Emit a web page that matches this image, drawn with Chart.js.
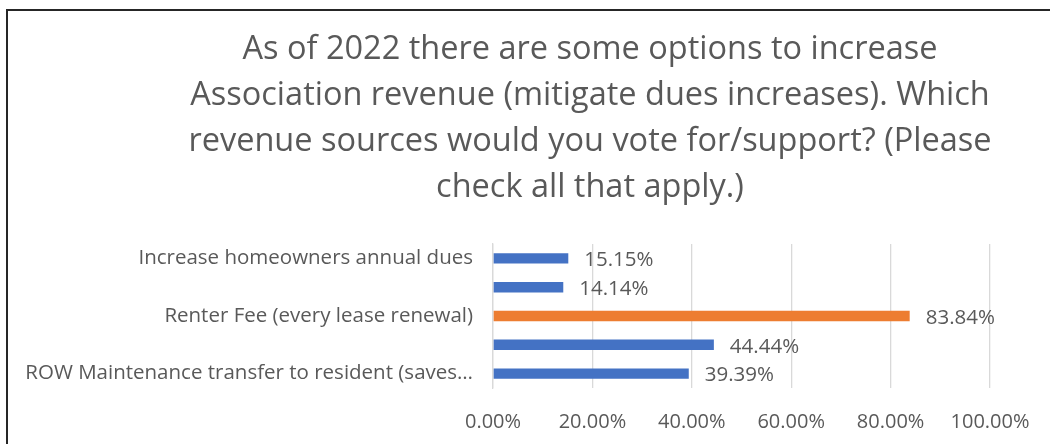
<!DOCTYPE html>
<html>
<head>
<meta charset="utf-8">
<script src="https://cdn.jsdelivr.net/npm/chart.js@4.4.0/dist/chart.umd.min.js"></script>
<style>
  html, body { margin: 0; padding: 0; background: #fff; overflow: hidden; width: 1050px; height: 444px; }
  #frame { position: absolute; left: 6px; top: 9px; width: 1170px; height: 440px;
           border-top: 2px solid #262626; border-left: 2px solid #262626; }
  #wrap { position: absolute; left: 8px; top: 11px; width: 1164px; height: 433px; }
</style>
</head>
<body>
<div id="frame"></div>
<div id="wrap"><canvas id="myChart"></canvas></div>
<script>
var titleLines = [
    'As of 2022 there are some options to increase',
    'Association revenue (mitigate dues increases). Which',
    'revenue sources would you vote for/support? (Please',
    'check all that apply.)'
];
var categories = [
    'Increase homeowners annual dues',
    '',
    'Renter Fee (every lease renewal)',
    '',
    'ROW Maintenance transfer to resident (saves\u2026'
];
var percents = [15.15, 14.14, 83.84, 44.44, 39.39];
var xTicks = [0, 20, 40, 60, 80, 100];

var textColor = '#595959';
var fontName = "'Open Sans', sans-serif";

// draws the value label to the right of each bar
var barLabels = {
    id: 'barLabels',
    afterDatasetsDraw: function(chart) {
        var ctx = chart.ctx;
        var meta = chart.getDatasetMeta(0);
        ctx.save();
        ctx.fillStyle = textColor;
        ctx.font = '20.5px ' + fontName;
        ctx.textAlign = 'left';
        ctx.textBaseline = 'middle';
        meta.data.forEach(function(bar, i) {
            ctx.fillText(percents[i].toFixed(2) + '%', bar.x + 16, bar.y + 2);
        });
        ctx.restore();
    }
};

function createChart() {
    var ctx = document.getElementById('myChart');
    var myChart = new Chart(ctx, {
        type: 'bar',
        data: {
            labels: categories,
            datasets: [{
                data: percents,
                backgroundColor: percents.map(function(v, i) {
                    return i === 2 ? '#ED7D31' : '#4472C4';
                }),
                barPercentage: 0.36,
                categoryPercentage: 1.0
            }]
        },
        options: {
            indexAxis: 'y',
            responsive: true,
            maintainAspectRatio: false,
            animation: false,
            layout: { padding: { top: 0, left: 0, right: 0, bottom: 0 } },
            plugins: {
                legend: { display: false },
                tooltip: { enabled: false },
                title: {
                    display: true,
                    text: titleLines,
                    color: textColor,
                    font: { family: fontName, size: 32.5, weight: 'normal', lineHeight: '46px' },
                    padding: { top: 16, bottom: 33 }
                }
            },
            scales: {
                x: {
                    min: 0,
                    max: 100,
                    afterBuildTicks: function(scale) {
                        scale.ticks = xTicks.map(function(v) { return { value: v }; });
                    },
                    grid: { color: '#D9D9D9', lineWidth: 1.3, drawTicks: false },
                    border: { display: false },
                    ticks: {
                        color: textColor,
                        font: { family: fontName, size: 20 },
                        padding: 22,
                        callback: function(v) { return v.toFixed(2) + '%'; }
                    },
                    afterFit: function(scale) { scale.height = 56; }
                },
                y: {
                    grid: { display: false, drawTicks: false },
                    border: { display: true, color: '#D9D9D9', width: 1.3 },
                    ticks: {
                        color: textColor,
                        font: { family: fontName, size: 20.5 },
                        padding: 20,
                        autoSkip: false
                    },
                    afterFit: function(scale) { scale.width = 485; }
                },
                yRight: {
                    type: 'linear',
                    position: 'right',
                    display: true,
                    grid: { display: false, drawTicks: false },
                    border: { display: false },
                    ticks: { display: false },
                    afterFit: function(scale) { scale.width = 182; }
                }
            }
        },
        plugins: [barLabels]
    });
}
createChart();
</script>
</body>
</html>
